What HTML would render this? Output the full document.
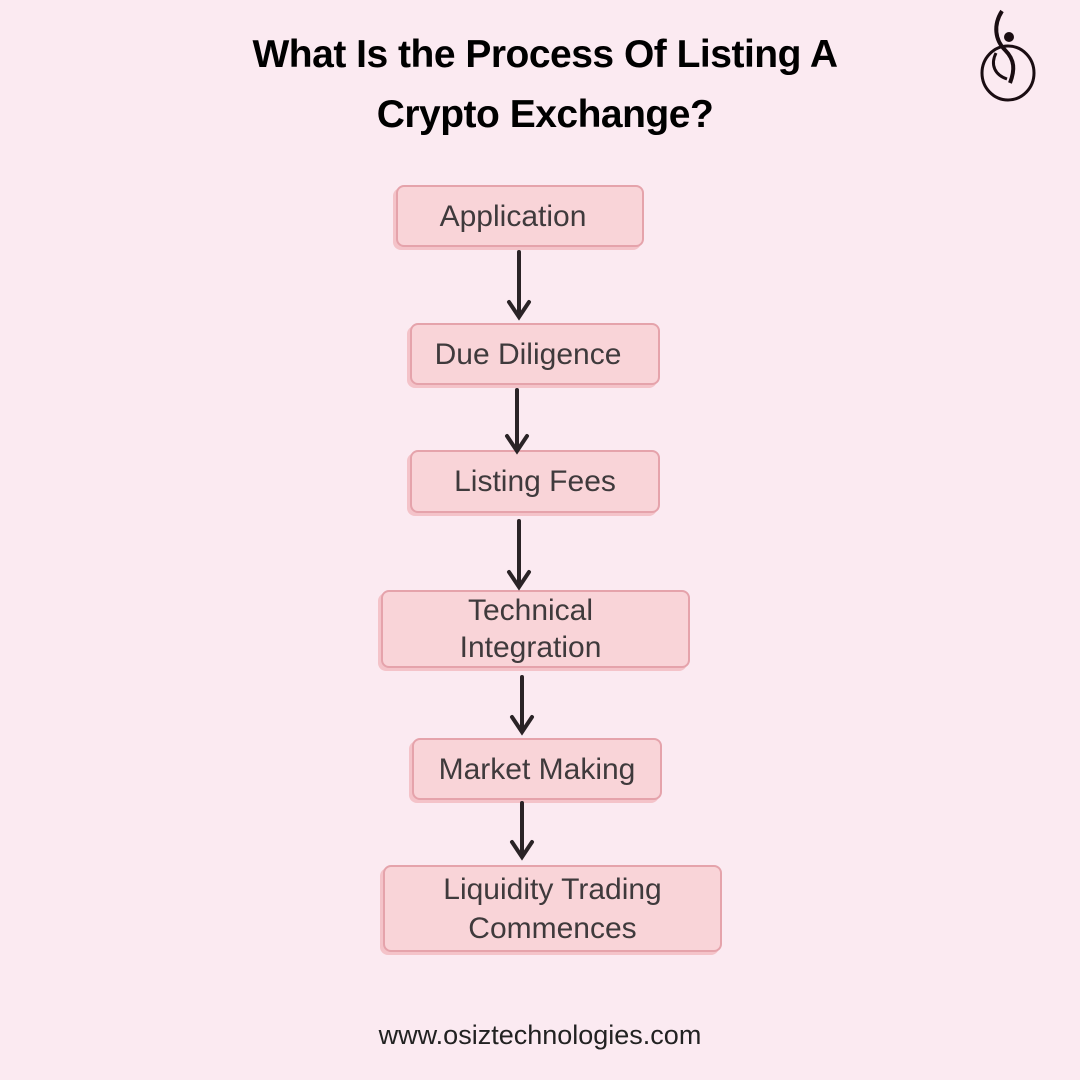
<!DOCTYPE html>
<html><head><style>
body{margin:0;width:1080px;height:1080px;background:#fbeaf1;position:relative;overflow:hidden;font-family:"Liberation Sans",sans-serif}
.t{position:absolute;left:0;width:1090px;text-align:center;font-weight:900;font-size:39px;color:#000;letter-spacing:-0.5px}
.b{position:absolute;background:#f9d4d8;border:2px solid #e5a3ab;border-radius:8px;box-shadow:-3px 3px 0 #f4c3c9;color:#3f3a3c;font-size:30px;display:flex;align-items:center;justify-content:center;text-align:center;line-height:37px;box-sizing:border-box}
.u{position:absolute;left:0;width:1080px;text-align:center;top:1020px;font-size:27px;color:#222}
</style></head><body>
<div class="t" style="top:33px">What Is the Process Of Listing A</div>
<div class="t" style="top:93px">Crypto Exchange?</div>
<svg style="position:absolute;left:975px;top:5px" width="70" height="100">
<path d="M27 6 C18 20 20 35 30 45 C40 55 40 65 35 78" stroke="#1a0d12" stroke-width="4" fill="none"/>
<path d="M21 48 C15 60 20 70 32 74" stroke="#1a0d12" stroke-width="3" fill="none"/>
<circle cx="34" cy="32" r="5" fill="#1a0d12"/>
<ellipse cx="33" cy="68" rx="26" ry="27" stroke="#1a0d12" stroke-width="3" fill="none"/>
</svg>
<div class="b" style="left:396px;top:185px;width:248px;height:62px;padding-right:14px">Application</div>
<div class="b" style="left:410px;top:323px;width:250px;height:62px;padding-right:14px">Due Diligence</div>
<div class="b" style="left:410px;top:450px;width:250px;height:63px">Listing Fees</div>
<div class="b" style="left:381px;top:590px;width:309px;height:78px;padding-right:10px">Technical<br>Integration</div>
<div class="b" style="left:412px;top:738px;width:250px;height:62px">Market Making</div>
<div class="b" style="left:383px;top:865px;width:339px;height:87px;line-height:39px">Liquidity Trading<br>Commences</div>
<svg style="position:absolute;left:0;top:0" width="1080" height="1080" fill="none" stroke="#2a2326" stroke-width="4" stroke-linecap="round">
<path d="M519 252V316M509 302L519 317L529 302"/>
<path d="M517 390V450M507 436L517 451L527 436"/>
<path d="M519 521V586M509 572L519 587L529 572"/>
<path d="M522 677V731M512 717L522 732L532 717"/>
<path d="M522 803V856M512 842L522 857L532 842"/>
</svg>
<div class="u">www.osiztechnologies.com</div>
</body></html>
